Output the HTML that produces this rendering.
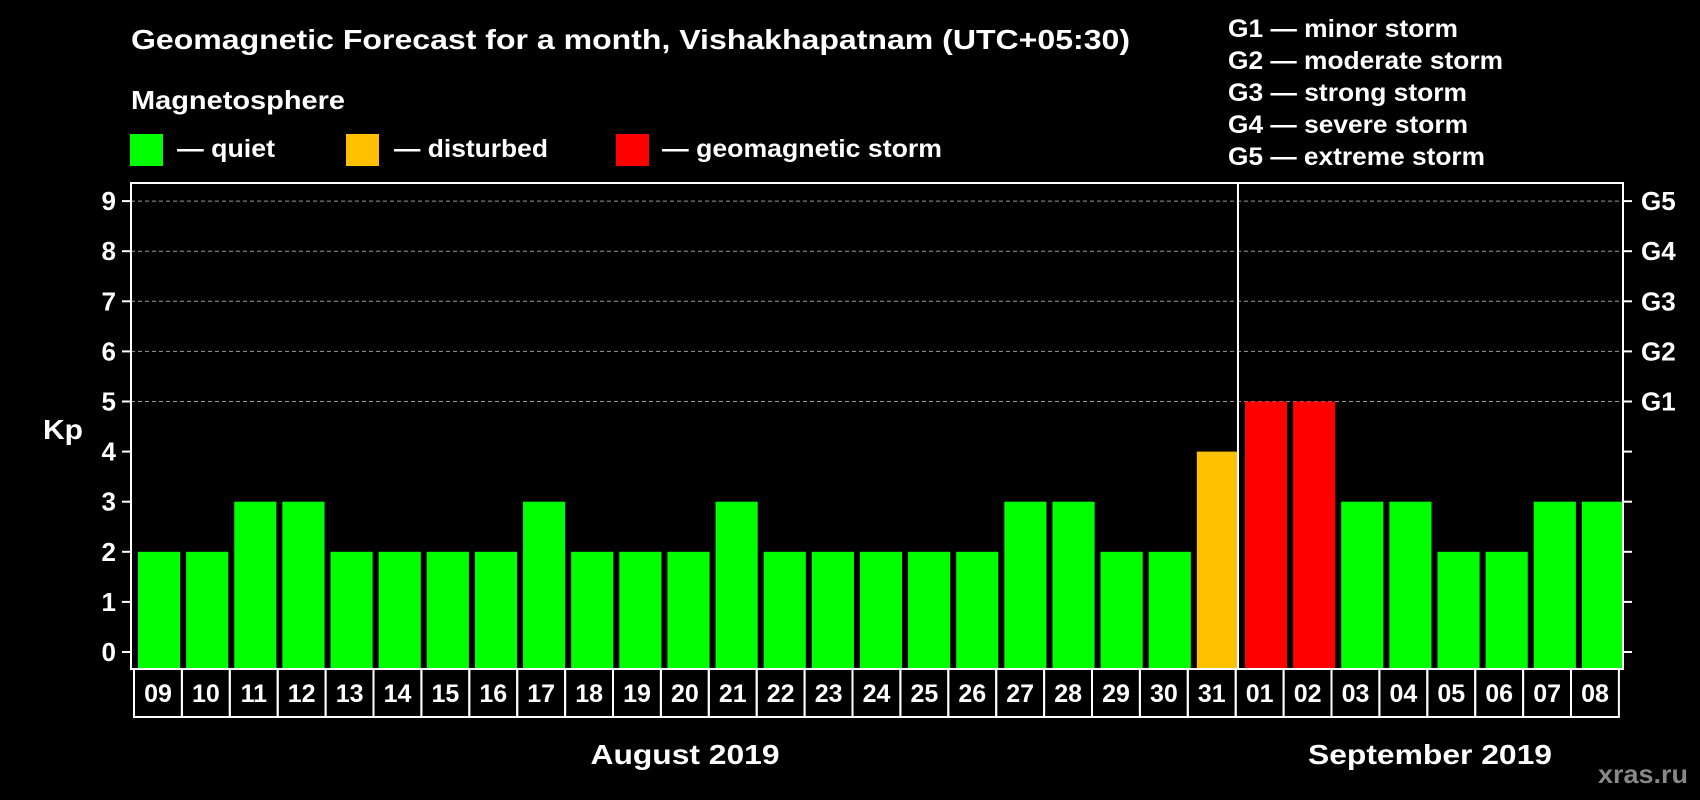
<!DOCTYPE html>
<html><head><meta charset="utf-8"><style>
html,body{margin:0;padding:0;background:#000;width:1700px;height:800px;overflow:hidden}
svg text{font-family:"Liberation Sans",Arial,sans-serif;font-weight:bold;fill:#fff}
</style></head><body>
<svg id="chart" width="1700" height="800" viewBox="0 0 1700 800">
<text x="131" y="49" font-size="28" textLength="999" lengthAdjust="spacingAndGlyphs">Geomagnetic Forecast for a month, Vishakhapatnam (UTC+05:30)</text>
<text x="131" y="109" font-size="26" textLength="214" lengthAdjust="spacingAndGlyphs">Magnetosphere</text>
<rect x="130" y="134" width="33" height="32" fill="#00ff00"/>
<text x="177" y="157" font-size="25" textLength="98" lengthAdjust="spacingAndGlyphs">— quiet</text>
<rect x="346" y="134" width="33" height="32" fill="#ffc000"/>
<text x="394" y="157" font-size="25" textLength="154" lengthAdjust="spacingAndGlyphs">— disturbed</text>
<rect x="616" y="134" width="33" height="32" fill="#ff0000"/>
<text x="662" y="157" font-size="25" textLength="280" lengthAdjust="spacingAndGlyphs">— geomagnetic storm</text>
<g font-size="25">
<text x="1228" y="37" textLength="230" lengthAdjust="spacingAndGlyphs">G1 — minor storm</text>
<text x="1228" y="69" textLength="275" lengthAdjust="spacingAndGlyphs">G2 — moderate storm</text>
<text x="1228" y="101" textLength="239" lengthAdjust="spacingAndGlyphs">G3 — strong storm</text>
<text x="1228" y="133" textLength="240" lengthAdjust="spacingAndGlyphs">G4 — severe storm</text>
<text x="1228" y="165" textLength="257" lengthAdjust="spacingAndGlyphs">G5 — extreme storm</text>
</g>
<text x="43" y="439" font-size="28" textLength="40" lengthAdjust="spacingAndGlyphs">Kp</text>
<g id="plot"></g>
<text x="685" y="764" font-size="28" textLength="189" lengthAdjust="spacingAndGlyphs" text-anchor="middle">August 2019</text>
<text x="1430" y="764" font-size="28" textLength="244" lengthAdjust="spacingAndGlyphs" text-anchor="middle">September 2019</text>
<text x="1643" y="783" font-size="26" textLength="90" lengthAdjust="spacingAndGlyphs" text-anchor="middle" style="fill:#888">xras.ru</text>
</svg>
<script>
const days = ["09","10","11","12","13","14","15","16","17","18","19","20","21","22","23","24","25","26","27","28","29","30","31","01","02","03","04","05","06","07","08"];
const kpValues = [2,2,3,3,2,2,2,2,3,2,2,2,3,2,2,2,2,2,3,3,2,2,4,5,5,3,3,2,2,3,3];
const yTicks = [0,1,2,3,4,5,6,7,8,9];
const gLabels = ["","","","","","G1","G2","G3","G4","G5"];
const monthSplitIndex = 23;

const NS="http://www.w3.org/2000/svg";
const g=document.getElementById('plot');
const L=131,R=1623,T=183,B=669;
const y0=652,unit=50.1;
const yS=v=>y0-v*unit;
const pitch=(R-L)/days.length;
const xS=i=>L+i*pitch;
function mk(tag,attrs){const e=document.createElementNS(NS,tag);for(const k in attrs)e.setAttribute(k,attrs[k]);g.appendChild(e);return e;}
yTicks.forEach((t,i)=>{
  const y=yS(t);
  if(t>=5){const d=mk('line',{x1:L,x2:R,y1:y,y2:y,stroke:'#999','stroke-dasharray':'4,3','stroke-width':1});
    
    }
  mk('line',{x1:L-9,x2:L,y1:y,y2:y,stroke:'#fff','stroke-width':2});
  mk('line',{x1:R,x2:R+9,y1:y,y2:y,stroke:'#fff','stroke-width':2});
  const tx=mk('text',{x:L-15,y:y+9,'font-size':26,'text-anchor':'end'});tx.textContent=t;
  
  
  if(gLabels[i]){const gt=mk('text',{x:R+18,y:y+9,'font-size':26});gt.textContent=gLabels[i];
    
    }
});
kpValues.forEach((v,i)=>{
  const c=v>=5?'#ff0000':(v>=4?'#ffc000':'#00ff00');
  const b=mk('rect',{x:xS(i)+7,y:yS(v),width:pitch-6,height:B-1-yS(v),fill:c});
  
  
  const bx=mk('rect',{x:134+i*47.9,y:B,width:47.9,height:48,fill:'none',stroke:'#fff','stroke-width':2});
  
  
  const t=mk('text',{x:134+i*47.9+24,y:B+33,'font-size':25,'text-anchor':'middle'});t.textContent=days[i];
  
  
});
const frame=mk('rect',{x:L,y:T,width:R-L,height:B-T,fill:'none',stroke:'#fff','stroke-width':2});


const sx=xS(monthSplitIndex);
const sp=mk('line',{x1:sx,x2:sx,y1:T,y2:B,stroke:'#fff','stroke-width':2});


</script>
</body></html>
